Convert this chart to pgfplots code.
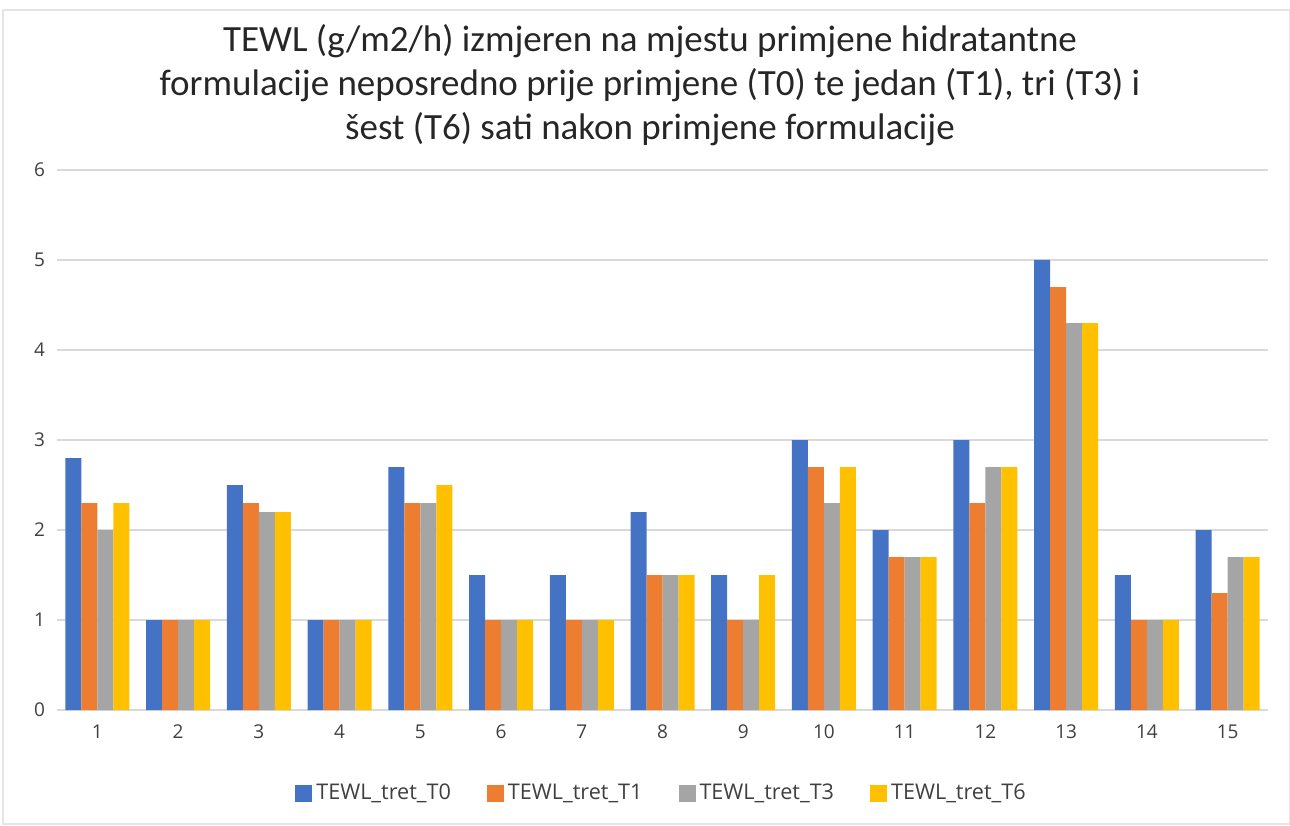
\documentclass[border=0pt]{standalone}
\usepackage{fontspec}
\setmainfont{Carlito}
\newfontfamily\ticksfont{Open Sans}
\usepackage{pgfplots}
\pgfplotsset{compat=1.18}
\definecolor{cT0}{HTML}{4472C4}
\definecolor{cT1}{HTML}{ED7D31}
\definecolor{cT3}{HTML}{A5A5A5}
\definecolor{cT6}{HTML}{FFC000}
\definecolor{gridc}{HTML}{D9D9D9}
\definecolor{txt}{HTML}{404040}
\begin{document}
\begin{tikzpicture}
\useasboundingbox (0,0) rectangle (645pt,412.5pt);
\draw[gray!20, line width=0.8pt] (1.5pt,0.5pt) rectangle (645pt,407.5pt);
\begin{axis}[
  at={(28.5pt,57.5pt)}, anchor=south west,
  scale only axis, width=605.5pt, height=270pt,
  ybar=0pt, bar width=8pt,
  xmin=0.5, xmax=15.5, ymin=0, ymax=6,
  xtick={1,...,15}, ytick={0,...,6},
  major tick length=0pt,
  axis x line*=bottom, axis y line*=left,
  x axis line style={draw=gridc, line width=0.6pt, -},
  y axis line style={draw=none},
  ymajorgrids, grid style={draw=gridc, line width=0.6pt},
  /pgf/number format/assume math mode=true,
  ticklabel style={font=\ticksfont\fontsize{9.5}{11}\selectfont, text=txt},
  xticklabel style={yshift=-4pt},
  yticklabel style={xshift=-2.5pt},
  legend columns=4,
  legend style={at={(rel axis cs:0.5,0)}, anchor=center, yshift=-41.5pt, draw=none,
    font=\ticksfont\fontsize{10.8}{13}\selectfont, text=txt,
    /tikz/every even column/.append style={column sep=16pt}},
  legend image code/.code={\fill[#1] (0pt,-4.25pt) rectangle (8.5pt,4.25pt);},
]
\addplot[fill=cT0, draw=none] coordinates {(1,2.8) (2,1) (3,2.5) (4,1) (5,2.7) (6,1.5) (7,1.5) (8,2.2) (9,1.5) (10,3) (11,2) (12,3) (13,5) (14,1.5) (15,2)};
\addplot[fill=cT1, draw=none] coordinates {(1,2.3) (2,1) (3,2.3) (4,1) (5,2.3) (6,1) (7,1) (8,1.5) (9,1) (10,2.7) (11,1.7) (12,2.3) (13,4.7) (14,1) (15,1.3)};
\addplot[fill=cT3, draw=none] coordinates {(1,2.0) (2,1) (3,2.2) (4,1) (5,2.3) (6,1) (7,1) (8,1.5) (9,1) (10,2.3) (11,1.7) (12,2.7) (13,4.3) (14,1) (15,1.7)};
\addplot[fill=cT6, draw=none] coordinates {(1,2.3) (2,1) (3,2.2) (4,1) (5,2.5) (6,1) (7,1) (8,1.5) (9,1.5) (10,2.7) (11,1.7) (12,2.7) (13,4.3) (14,1) (15,1.7)};
\legend{TEWL\_tret\_T0, TEWL\_tret\_T1, TEWL\_tret\_T3, TEWL\_tret\_T6}
\end{axis}
\node[align=center, font=\fontsize{18.5}{22}\selectfont, text=black!85] at (325pt,370pt)
  {TEWL (g/m2/h) izmjeren na mjestu primjene hidratantne\\
   formulacije neposredno prije primjene (T0) te jedan (T1), tri (T3) i\\
   šest (T6) sati nakon primjene formulacije};
\end{tikzpicture}
\end{document}
